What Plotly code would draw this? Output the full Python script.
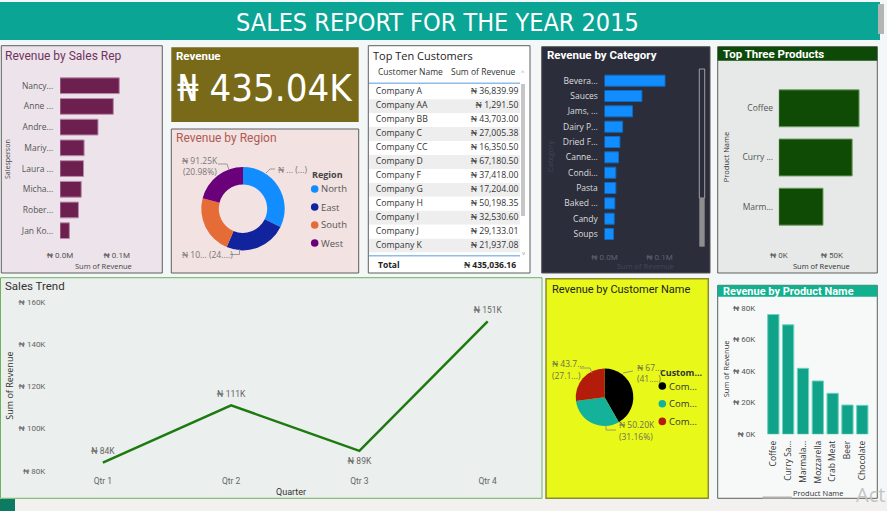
import plotly.graph_objects as go

# ---------------- data ----------------
report_title = "SALES REPORT FOR THE YEAR 2015"

rep_names = ["Nancy...", "Anne ...", "Andre...", "Mariy...", "Laura ...", "Micha...", "Rober...", "Jan Ko..."]
rep_revenue = [104500, 94000, 67000, 42500, 41500, 37500, 32500, 16500]
rep_tickvals = [0, 100000]
rep_ticktext = ["₦ 0.0M", "₦ 0.1M"]

total_revenue = 435036.16

region_names = ["North", "East", "South", "West"]
region_revenue = [140290, 105000, 98492, 91254]

table_customers = ["Company A", "Company AA", "Company BB", "Company C", "Company CC", "Company D",
                   "Company F", "Company G", "Company H", "Company I", "Company J", "Company K"]
table_revenue = [36839.99, 1291.50, 43703.00, 27005.38, 16350.50, 67180.50,
                 37418.00, 17204.00, 50198.35, 32530.60, 29133.01, 21937.08]

category_names = ["Bevera...", "Sauces", "Jams, ...", "Dairy P...", "Dried F...", "Canne...",
                  "Condi...", "Pasta", "Baked ...", "Candy", "Soups"]
category_revenue = [110000, 68000, 51000, 33000, 28000, 25500, 20600, 20600, 18800, 17600, 16400]

product_names = ["Coffee", "Curry Sa...", "Marmala...", "Mozzarella", "Crab Meat", "Beer", "Chocolate"]
product_revenue = [75700, 69200, 41700, 33700, 25900, 18500, 18300]
product_tickvals = [0, 20000, 40000, 60000, 80000]
product_ticktext = ["₦ 0K", "₦ 20K", "₦ 40K", "₦ 60K", "₦ 80K"]

top3_names = ["Coffee", "Curry ...", "Marm..."]
top3_revenue = product_revenue[:3]
top3_tickvals = [0, 50000]
top3_ticktext = ["₦ 0K", "₦ 50K"]

quarters = ["Qtr 1", "Qtr 2", "Qtr 3", "Qtr 4"]
quarter_revenue = [83800, 111000, 89400, 150800]
trend_tickvals = [80000, 100000, 120000, 140000, 160000]
trend_ticktext = ["₦ 80K", "₦ 100K", "₦ 120K", "₦ 140K", "₦ 160K"]

pie_customers = ["Company D", "Company H", "Company BB"]
pie_legend_text = ["Com...", "Com...", "Com..."]
pie_revenue = [67180.50, 50198.35, 43703.00]

# ---------------- helpers ----------------
W, H = 887, 511
FONT = "Open Sans"
DIN = "Roboto"
NARROW = "Liberation Sans Narrow, DejaVu Sans Condensed, Roboto"


def X(px):
    return px / W


def Y(py):
    return 1 - py / H


shapes = []
annotations = []


def rect(x0, y0, x1, y1, fill, line=None, lw=1, layer="below"):
    shapes.append(dict(type="rect", xref="paper", yref="paper",
                       x0=X(x0), x1=X(x1), y0=Y(y1), y1=Y(y0),
                       fillcolor=fill, layer=layer,
                       line=dict(color=line if line else fill, width=lw if line else 0)))


def circle(cx, cy, r, fill):
    shapes.append(dict(type="circle", xref="paper", yref="paper",
                       x0=X(cx - r), x1=X(cx + r), y0=Y(cy + r), y1=Y(cy - r),
                       fillcolor=fill, line=dict(width=0), layer="above"))


def poly(points, color="#9a9a9a", width=1):
    d = "M " + " L ".join(f"{X(a)} {Y(b)}" for a, b in points)
    shapes.append(dict(type="path", xref="paper", yref="paper", path=d,
                       line=dict(color=color, width=width), layer="above"))


def text(x, y, s, size=9, color="#333333", xanchor="left", family=FONT, angle=0):
    annotations.append(dict(xref="paper", yref="paper", x=X(x), y=Y(y), text=s,
                            showarrow=False, xanchor=xanchor, yanchor="middle",
                            textangle=angle, borderpad=0,
                            font=dict(size=size, color=color, family=family)))


def dom_x(a, b):
    return [X(a), X(b)]


def dom_y(top, bottom):
    return [Y(bottom), Y(top)]


fig = go.Figure()

# ---------------- page background pieces ----------------
rect(0, 2, 880, 40, "#0ba595")
text(437, 22, report_title, 25, "white", "center", NARROW)
rect(878, 4, 884, 34, "#b4b4b4")
rect(0, 499, 887, 511, "#f2f1ef")
rect(0, 499, 15, 511, "#0d7a62")

# ---------------- Panel 1: Revenue by Sales Rep ----------------
rect(1.3, 45.7, 162.3, 273, "#ece4ea", "#5e5e5e", 1)
text(4, 56, "Revenue by Sales Rep", 12, "#70335f", family=DIN)
text(7, 159, "Salesperson", 7, "#444444", "center", angle=-90)
text(103, 265.7, "Sum of Revenue", 7.5, "#444444", "center")
fig.add_trace(go.Bar(x=rep_revenue, y=rep_names, orientation="h", xaxis="x", yaxis="y",
                     width=0.76, marker=dict(color="#6d1f50", line=dict(color="#b88aa8", width=1)),
                     hoverinfo="skip"))

# ---------------- Panel 2: Revenue card ----------------
rect(171.3, 47.3, 358.7, 122, "#786a18")
text(175, 55.7, "<b>Revenue</b>", 11.5, "white", family=DIN)
text(265, 88, f"₦ {total_revenue / 1000:.2f}K", 38, "white", "center", NARROW)

# ---------------- Panel 3: Revenue by Region ----------------
rect(171.3, 129, 358.7, 273, "#f2e2e2", "#5e5e5e", 1)
text(175, 138.3, "Revenue by Region", 12, "#b05a52", family=DIN)
region_colors = ["#118dff", "#12239e", "#e66c37", "#6b007b"]
cx, cy, r = 243, 208.7, 41.7
fig.add_trace(go.Pie(values=region_revenue, labels=region_names, sort=False, direction="clockwise",
                     hole=0.58, textinfo="none", hoverinfo="skip", showlegend=False,
                     marker=dict(colors=region_colors, line=dict(width=0)),
                     domain=dict(x=dom_x(cx - r, cx + r), y=dom_y(cy - r, cy + r))))
west_share = region_revenue[3] / sum(region_revenue) * 100
text(200, 160.7, f"₦ {region_revenue[3] / 1000:.2f}K", 8.5, "#777777", "center")
text(200, 171.7, f"({west_share:.2f}%)", 8.5, "#777777", "center")
poly([(218, 164), (227, 164), (229, 170)])
text(277, 169.7, "₦ ... (...)", 8.5, "#777777")
poly([(266, 173), (270, 169), (275, 169)])
text(181, 254.7, "₦ 10... (24....)", 8.5, "#777777")
poly([(230, 254.5), (239.5, 254.5), (239.5, 249.5)])
text(311, 174.7, "<b>Region</b>", 9, "#444444")
for i, (nm, col) in enumerate(zip(region_names, region_colors)):
    yy = 189 + 18 * i
    circle(314.7, yy, 3.8, col)
    text(320, yy, nm, 9.5, "#555555")

# ---------------- Panel 4: Top Ten Customers table ----------------
rect(368.3, 45.7, 530, 273, "#ffffff", "#5e5e5e", 1)
text(372.3, 55.7, "Top Ten Customers", 11, "#252423")
text(376.7, 71.3, "Customer Name", 8.5, "#333333")
text(516.7, 71.3, "Sum of Revenue", 8.5, "#333333", "right")
row_idx = list(range(len(table_customers)))
row_colors = ["#ffffff" if i % 2 == 0 else "#eeeeee" for i in row_idx]
fig.add_trace(go.Bar(x=[1] * len(row_idx), y=row_idx, orientation="h", width=1, xaxis="x6", yaxis="y6",
                     marker=dict(color=row_colors, line=dict(width=0)), hoverinfo="skip"))
fig.add_trace(go.Scatter(x=[0.045] * len(row_idx), y=row_idx, mode="text", text=table_customers,
                         textposition="middle right", xaxis="x6", yaxis="y6", hoverinfo="skip",
                         cliponaxis=False, textfont=dict(size=8.7, color="#333333", family=FONT)))
fig.add_trace(go.Scatter(x=[0.99] * len(row_idx), y=row_idx, mode="text",
                         text=[f"₦ {v:,.2f}" for v in table_revenue],
                         textposition="middle left", xaxis="x6", yaxis="y6", hoverinfo="skip",
                         cliponaxis=False, textfont=dict(size=8.7, color="#333333", family=FONT)))
poly([(369, 83.3), (520, 83.3)], "#8dbde8", 1.5)
poly([(369, 255.7), (520, 255.7)], "#8dbde8", 1.5)
rect(521, 84, 525, 216, "#c6c6c6", layer="above")
text(523, 72, "^", 6, "#999999", "center")
text(523, 253, "v", 6, "#999999", "center")
text(376.7, 264.7, "<b>Total</b>", 8.5, "#222222")
text(516.7, 264.7, f"<b>₦ {total_revenue:,.2f}</b>", 8.5, "#222222", "right")

# ---------------- Panel 5: Revenue by Category ----------------
rect(541.7, 46.7, 710, 273, "#2b2d3b", "#555555", 1)
text(546, 54.7, "<b>Revenue by Category</b>", 11.5, "white", family=DIN)
text(550, 157, "Category", 7.5, "#43465a", "center", angle=-90)
text(645, 265.7, "Sum of Revenue", 7.5, "#43465a", "center")
rect(699.3, 69, 704.7, 198, "#2b2d3b", "#a0a0a0", 1)
rect(699.3, 198, 704.7, 246.7, "#8e8e8e")
fig.add_trace(go.Bar(x=category_revenue, y=category_names, orientation="h", xaxis="x2", yaxis="y2",
                     width=0.72, marker=dict(color="#118dff", line=dict(color="#0e6cc2", width=1)),
                     hoverinfo="skip"))

# ---------------- Panel 6: Top Three Products ----------------
rect(717.7, 46.7, 877.3, 273, "#e6e9e8", "#5e5e5e", 1)
rect(717.7, 46.7, 877.3, 60.7, "#0e4a07")
text(722.3, 54.5, "<b>Top Three Products</b>", 11.5, "white", family=DIN)
text(726, 157.3, "Product Name", 7.5, "#333333", "center", angle=-90)
text(821, 265.7, "Sum of Revenue", 7.5, "#333333", "center")
fig.add_trace(go.Bar(x=top3_revenue, y=top3_names, orientation="h", xaxis="x3", yaxis="y3",
                     width=0.75, marker=dict(color="#104b05", line=dict(color="#6a9a5e", width=1)),
                     hoverinfo="skip"))

# ---------------- Panel 7: Sales Trend ----------------
rect(0.5, 277.7, 542, 498.3, "#ebefed", "#6db35a", 1)
text(4, 286, "Sales Trend", 11.5, "#333333", family=DIN)
text(8.7, 386, "Sum of Revenue", 9, "#333333", "center", angle=-90)
text(291.3, 492, "Quarter", 9, "#333333", "center", family=DIN)
fig.add_trace(go.Scatter(x=quarters, y=quarter_revenue, mode="lines+markers+text", xaxis="x4", yaxis="y4",
                         text=[f"₦ {v / 1000:.0f}K" for v in quarter_revenue],
                         textposition=["top center", "top center", "bottom center", "top center"],
                         textfont=dict(size=8.5, color="#666666", family=DIN), cliponaxis=False,
                         marker=dict(size=9, color="rgba(0,0,0,0)"),
                         line=dict(color="#1d7a10", width=2.5), hoverinfo="skip"))

# ---------------- Panel 8: Revenue by Customer Name ----------------
rect(546, 278.7, 708.3, 498.3, "#e8f919", "#8b8b2a", 1.5)
text(551, 289.3, "Revenue by Customer Name", 11, "#222222", family=DIN)
pie_colors = ["#000000", "#14b29b", "#b31c0a"]
pcx, pcy, pr = 604.5, 397.2, 28.8
fig.add_trace(go.Pie(values=pie_revenue, labels=pie_customers, sort=False, direction="clockwise",
                     textinfo="none", hoverinfo="skip", showlegend=False,
                     marker=dict(colors=pie_colors, line=dict(width=0)),
                     domain=dict(x=dom_x(pcx - pr, pcx + pr), y=dom_y(pcy - pr, pcy + pr))))
text(635.5, 367.7, "₦ 67...", 8.5, "#6e6e50")
text(635.5, 378.3, "(41....)", 8.5, "#6e6e50")
poly([(623, 373), (633, 371)], "#9a9a70")
text(551, 363.3, "₦ 43.7...", 8.5, "#6e6e50")
text(551, 375, "(27.1...)", 8.5, "#6e6e50")
poly([(580, 368), (590, 368), (592, 373)], "#9a9a70")
text(617.5, 424.7, "₦ 50.20K", 8.5, "#6e6e50")
text(617.5, 436, "(31.16%)", 8.5, "#6e6e50")
poly([(606, 426), (606, 430), (616, 430)], "#9a9a70")
text(659.3, 372, "<b>Custom...</b>", 9, "#333333")
for i, (nm, col) in enumerate(zip(pie_legend_text, pie_colors)):
    yy = 386 + 17.7 * i
    circle(662.3, yy, 3.8, col)
    text(668, yy, nm, 9.5, "#333333")

# ---------------- Panel 9: Revenue by Product Name ----------------
rect(717.7, 285.3, 877.3, 498.3, "#f7f9f9", "#5e5e5e", 1)
rect(717.7, 285.3, 877.3, 296.7, "#11b08e")
text(722.3, 291, "<b>Revenue by Product Name</b>", 11, "white", family=DIN)
text(726, 369.3, "Sum of Revenue", 7.5, "#333333", "center", angle=-90)
text(818.3, 492.7, "Product Name", 7.5, "#333333", "center")
rect(762.7, 496.5, 791.7, 498.7, "#b0b0b0", layer="above")
fig.add_trace(go.Bar(x=product_names, y=product_revenue, xaxis="x5", yaxis="y5",
                     width=0.76, marker=dict(color="#10a38a", line=dict(color="#6fd3bf", width=1)),
                     hoverinfo="skip"))

text(886, 494, "Act", 20, "#c4c4c4", "right", family=FONT)

# ---------------- axes ----------------
def ax(**kw):
    base = dict(showgrid=False, zeroline=False, showline=False, fixedrange=True,
                ticks="outside", tickcolor="rgba(0,0,0,0)", automargin=False)
    base.update(kw)
    return base


tf = lambda size, color, fam=DIN: dict(size=size, color=color, family=fam)

fig.update_layout(
    width=W, height=H, autosize=False,
    margin=dict(l=0, r=0, t=0, b=0, pad=0),
    paper_bgcolor="#f4f7f7", plot_bgcolor="rgba(0,0,0,0)",
    showlegend=False, shapes=shapes, annotations=annotations,
    # sales rep
    xaxis=ax(domain=dom_x(60, 150), range=[0, 158730], tickvals=rep_tickvals, ticktext=rep_ticktext,
             ticklen=6, tickfont=tf(8, "#555555"), anchor="y"),
    yaxis=ax(domain=dom_y(75.35, 241.05), type="category", range=[7.5, -0.5], ticklen=4,
             tickfont=tf(8.5, "#555555", FONT), anchor="x"),
    # category
    xaxis2=ax(domain=dom_x(604.5, 690), range=[0, 155454], tickvals=rep_tickvals, ticktext=rep_ticktext,
              ticklen=8, tickfont=tf(8, "#5f616b"), anchor="y2"),
    yaxis2=ax(domain=dom_y(73.0, 241.7), type="category", range=[10.5, -0.5], ticklen=4,
              tickfont=tf(8.5, "#dddddd", FONT), anchor="x2"),
    # top three
    xaxis3=ax(domain=dom_x(778.8, 868), range=[0, 84151], tickvals=top3_tickvals, ticktext=top3_ticktext,
              ticklen=16, tickfont=tf(8, "#555555"), anchor="y3"),
    yaxis3=ax(domain=dom_y(83.7, 231.3), type="category", range=[2.5, -0.5], ticklen=3,
              tickfont=tf(8.5, "#555555", FONT), anchor="x3"),
    # trend
    xaxis4=ax(domain=dom_x(60, 530), type="category", range=[-0.334, 3.33], ticklen=2,
              tickfont=tf(8.5, "#666666"), anchor="y4"),
    yaxis4=ax(domain=dom_y(302, 470.7), range=[80000, 160000], tickvals=trend_tickvals,
              ticktext=trend_ticktext, ticklen=12, tickfont=tf(8, "#666666"), anchor="x4"),
    # products
    xaxis5=ax(domain=dom_x(765.9, 869.7), type="category", range=[-0.5, 6.5], ticklen=2, tickangle=-90,
              tickfont=tf(8.5, "#333333", FONT), anchor="y5"),
    yaxis5=ax(domain=dom_y(307.7, 434.3), range=[0, 80000], tickvals=product_tickvals,
              ticktext=product_ticktext, ticklen=8, tickfont=tf(8, "#555555"), anchor="x5"),
    # table
    xaxis6=ax(domain=dom_x(369, 520), range=[0, 1], visible=False, anchor="y6"),
    yaxis6=ax(domain=dom_y(85.3, 252.6), range=[11.5, -0.5], visible=False, anchor="x6"),
)

fig.write_html("out.html", config={"displayModeBar": False})
